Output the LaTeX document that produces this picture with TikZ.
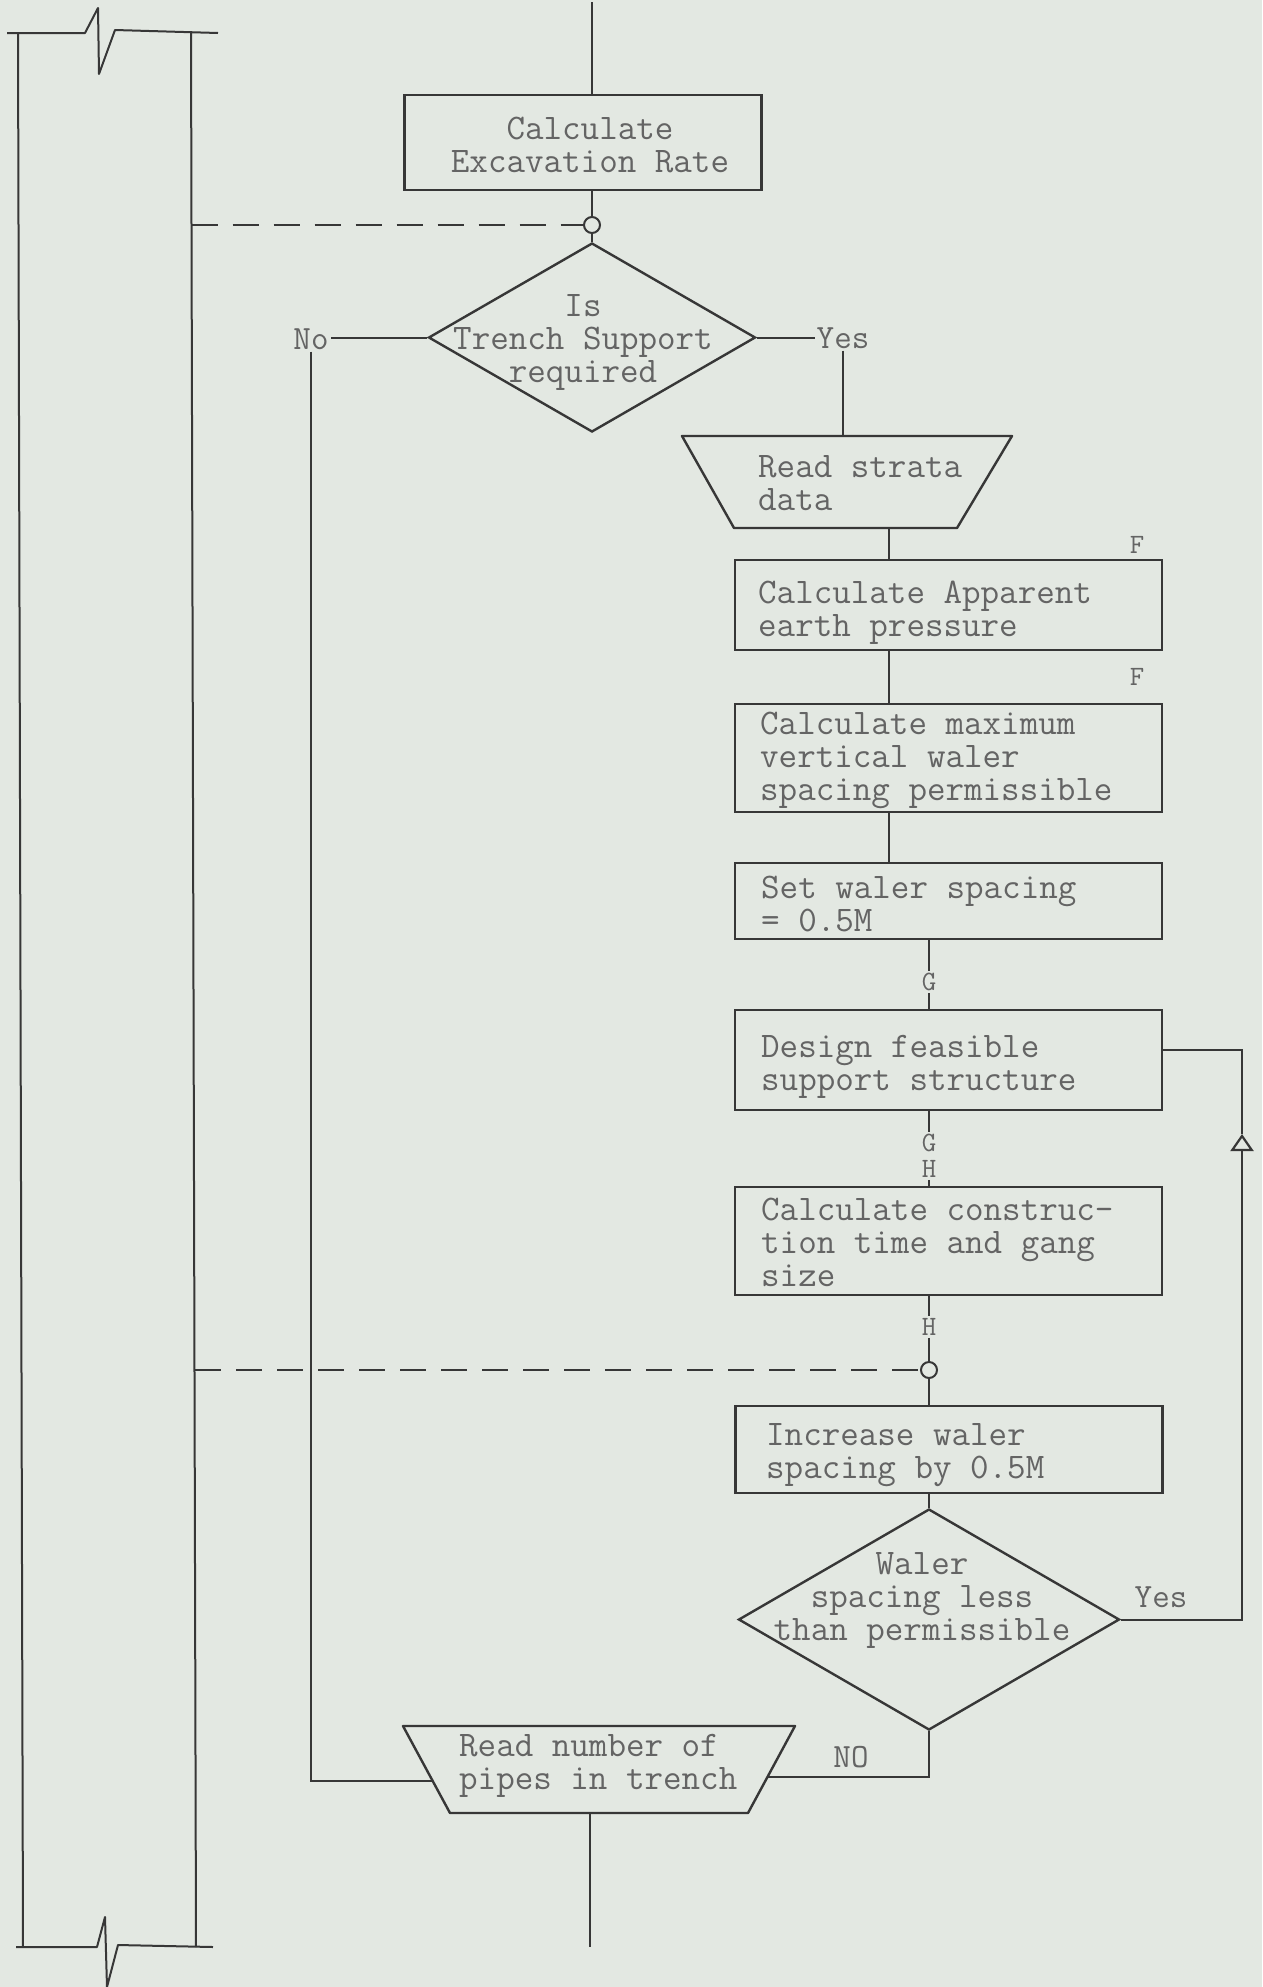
\documentclass[tikz,border=0pt]{standalone}
\usetikzlibrary{shapes.geometric,arrows.meta}
\definecolor{paper}{RGB}{227,232,226}
\definecolor{ink}{RGB}{55,55,55}
\definecolor{txt}{RGB}{100,100,100}
\begin{document}
\begin{tikzpicture}[x=1pt,y=-1pt,
  every node/.style={font=\ttfamily\fontsize{36}{33}\selectfont, text=txt},
  proc/.style={draw=ink, line width=2.4pt, rectangle, minimum width=427pt, inner sep=0pt},
  btext/.style={anchor=west, align=left, inner sep=0pt},
  conn/.style={draw=ink, line width=2pt},
  dia/.style={draw=ink, line width=2.4pt, diamond, inner sep=0pt},
  lab/.style={font=\ttfamily\fontsize{34}{34}\selectfont, inner sep=2pt},
  small/.style={font=\ttfamily\fontsize{28}{28}\selectfont, inner sep=2pt},
  joint/.style={draw=ink, line width=2pt, circle, minimum size=16pt, inner sep=0pt},
  dashline/.style={draw=ink, line width=2pt, dash pattern=on 26pt off 15pt},
  trapbox/.style={draw=ink, line width=2.4pt, line join=round},
  bracket/.style={draw=ink, line width=2pt, line join=round}
]
\fill[paper] (0,0) rectangle (1262,1987);
\useasboundingbox (0,0) rectangle (1262,1987);

% bracket on the left
\draw[bracket] (18,33) -- (23,1947);
\draw[bracket] (191,33) -- (196,1947);
\draw[bracket] (7,33) -- (85,33) -- (98,8) -- (99,74) -- (115,30) -- (218,33);
\draw[bracket] (16,1947) -- (97,1947) -- (105,1917) -- (107,1987) -- (118,1945) -- (213,1947);

% nodes
\coordinate (top) at (592,2);
\node[proc, minimum width=357pt, minimum height=95pt] (b1) at (583,142.5) {};
\node[align=center, inner sep=0pt] (b1t) at (590,145) {Calculate\\Excavation Rate};
\node[joint] (c1) at (592,225) {};
\node[dia, minimum width=327pt, minimum height=189pt] (d1) at (592,337.5) {};
\node[align=center, inner sep=0pt] (d1t) at (583,342) {Is\\Trench Support\\required};
\node[lab] (no) at (311,339) {No};
\node[lab] (yes1) at (843,338) {Yes};

\coordinate (t1tl) at (682,436);
\coordinate (t1tr) at (1012,436);
\coordinate (t1br) at (957,528);
\coordinate (t1bl) at (734,528);
\coordinate (t1o) at (889,528);
\draw[trapbox] (t1tl) -- (t1tr) -- (t1br) -- (t1bl) -- cycle;
\node[btext] (t1t) at (758,483.5) {Read strata\\data};

\node[proc, minimum height=90pt] (b2) at (948.5,605) {};
\node[btext] (b2t) at (758,613) {Calculate Apparent\\earth pressure};
\node[small] (f1) at (1137,545) {F};
\node[proc, minimum height=108pt] (b3) at (948.5,758) {};
\node[btext] (b3t) at (760,760) {Calculate maximum\\vertical waler\\spacing permissible};
\node[small] (f2) at (1137,677) {F};
\node[proc, minimum height=76pt] (b4) at (948.5,901) {};
\node[btext] (b4t) at (761,904) {Set waler spacing\\= 0.5M};
\node[small] (g1) at (929,982) {G};
\node[proc, minimum height=100pt] (b5) at (948.5,1060) {};
\node[btext] (b5t) at (761,1067) {Design feasible\\support structure};
\node[small] (g2) at (929,1143) {G};
\node[small] (h1) at (929,1169) {H};
\node[proc, minimum height=108pt] (b6) at (948.5,1241) {};
\node[btext] (b6t) at (761,1242) {Calculate construc-\\tion time and gang\\size};
\node[small] (h2) at (929,1327) {H};
\node[joint] (c2) at (929,1370) {};
\node[proc, minimum height=87pt] (b7) at (949,1449.5) {};
\node[btext] (b7t) at (766,1455) {Increase waler\\spacing by 0.5M};
\node[dia, minimum width=381pt, minimum height=221pt] (d2) at (929,1619.5) {};
\node[align=center, inner sep=0pt] (d2t) at (922,1600) {Waler\\spacing less\\than permissible};
\node[lab] (yes2) at (1161,1597) {Yes};
\node[lab] (no2) at (851,1757) {NO};
\coordinate (lpt) at (1242,1050);
\coordinate (ahd) at (1242,1134);

\coordinate (t2tl) at (403,1726);
\coordinate (t2tr) at (795,1726);
\coordinate (t2br) at (748,1813);
\coordinate (t2bl) at (450,1813);
\coordinate (t2l) at (433,1781);
\coordinate (t2r) at (767,1777);
\coordinate (t2o) at (590,1813);
\coordinate (bot) at (590,1947);
\draw[trapbox] (t2tl) -- (t2tr) -- (t2br) -- (t2bl) -- cycle;
\node[btext] (t2t) at (459,1765.5) {Read number of\\pipes in trench};

% dashed links
\coordinate (dsh1) at (191.5,225);
\coordinate (dsh2) at (195,1370);
\draw[dashline] (dsh1) -- (c1.west);
\draw[dashline] (dsh2) -- (c2.west);

% connectors
\draw[conn] (top) -- (b1.north -| top);
\draw[conn] (b1.south -| c1) -- (c1);
\draw[conn] (c1) -- (d1.north);
\draw[conn] (d1.west) -- (d1.west -| no.east);
\draw[conn] (no.south) |- (t2l);
\draw[conn] (d1.east) -- (d1.east -| yes1.west);
\draw[conn] (yes1.south) -- (yes1.south |- t1tl);
\draw[conn] (t1o) -- (t1o |- b2.north);
\draw[conn] (b2.south -| t1o) -- (b3.north -| t1o);
\draw[conn] (b3.south -| t1o) -- (b4.north -| t1o);
\draw[conn] (b4.south -| g1) -- (g1);
\draw[conn] (g1) -- (g1 |- b5.north);
\draw[conn] (b5.south -| g2) -- (g2);
\draw[conn] (h1) -- (h1 |- b6.north);
\draw[conn] (b6.south -| h2) -- (h2);
\draw[conn] (h2) -- (c2);
\draw[conn] (c2) -- (c2 |- b7.north);
\draw[conn] (b7.south -| d2) -- (d2.north);
\draw[conn, line join=miter] (ahd) -- (lpt) -- (lpt -| b5.east);
\draw[conn, -{Triangle[length=17pt, width=23pt, fill=paper, line width=2.2pt]}] (d2.east) -| (ahd);
\draw[conn] (d2.south) |- (t2r);
\draw[conn] (t2o) -- (bot);
\end{tikzpicture}
\end{document}
